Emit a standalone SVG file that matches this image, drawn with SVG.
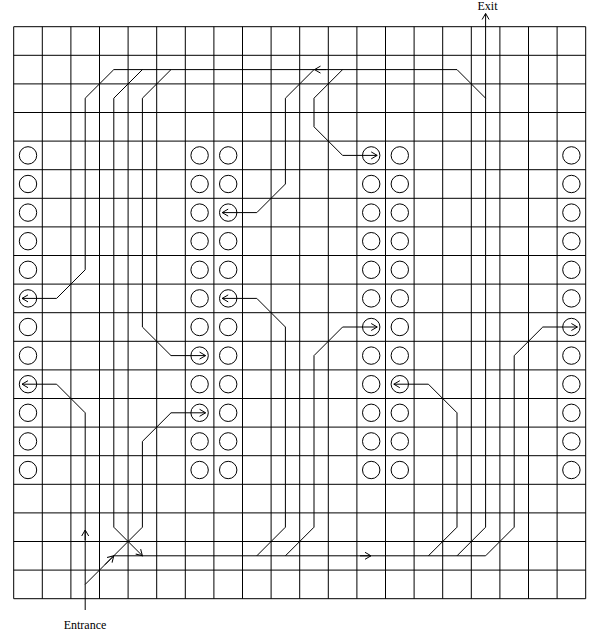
<svg xmlns="http://www.w3.org/2000/svg" width="595" height="633" viewBox="0 0 595 633">
<style>
.grid{fill:none;stroke:#000;stroke-width:1}
.route{fill:none;stroke:#000;stroke-width:1}
.seat{fill:none;stroke:#000;stroke-width:1}
.lbl{font-family:"Liberation Serif","Times New Roman",serif;font-size:12px;fill:#000;text-anchor:middle}
</style>
<defs>
<marker id="arr" markerUnits="userSpaceOnUse" markerWidth="12" markerHeight="12" refX="0" refY="0" viewBox="-8 -6 10 12" orient="auto" overflow="visible">
<path d="M-6,-3.5 L0,0 L-6,3.5" fill="none" stroke="#000" stroke-width="1"/>
</marker>
<circle id="c" r="8.7" class="seat"/>
</defs>
<rect width="595" height="633" fill="#fff"/>
<g id="grid" class="grid">
<path d="M13.7,26.7V598.7M42.3,26.7V598.7M70.9,26.7V598.7M99.5,26.7V598.7M128.1,26.7V598.7M156.7,26.7V598.7M185.3,26.7V598.7M213.9,26.7V598.7M242.5,26.7V598.7M271.1,26.7V598.7M299.7,26.7V598.7M328.3,26.7V598.7M356.9,26.7V598.7M385.5,26.7V598.7M414.1,26.7V598.7M442.7,26.7V598.7M471.3,26.7V598.7M499.9,26.7V598.7M528.5,26.7V598.7M557.1,26.7V598.7M585.7,26.7V598.7"/>
<path d="M13.7,26.7H585.7M13.7,55.3H585.7M13.7,83.9H585.7M13.7,112.5H585.7M13.7,141.1H585.7M13.7,169.7H585.7M13.7,198.3H585.7M13.7,226.9H585.7M13.7,255.5H585.7M13.7,284.1H585.7M13.7,312.7H585.7M13.7,341.3H585.7M13.7,369.9H585.7M13.7,398.5H585.7M13.7,427.1H585.7M13.7,455.7H585.7M13.7,484.3H585.7M13.7,512.9H585.7M13.7,541.5H585.7M13.7,570.1H585.7M13.7,598.7H585.7"/>
</g>
<g id="seats-col1">
<g id="s1-1"><use href="#c" x="28" y="155.4"/></g>
<g id="s1-2"><use href="#c" x="28" y="184"/></g>
<g id="s1-3"><use href="#c" x="28" y="212.6"/></g>
<g id="s1-4"><use href="#c" x="28" y="241.2"/></g>
<g id="s1-5"><use href="#c" x="28" y="269.8"/></g>
<g id="s1-6"><use href="#c" x="28" y="298.4"/></g>
<g id="s1-7"><use href="#c" x="28" y="327"/></g>
<g id="s1-8"><use href="#c" x="28" y="355.6"/></g>
<g id="s1-9"><use href="#c" x="28" y="384.2"/></g>
<g id="s1-10"><use href="#c" x="28" y="412.8"/></g>
<g id="s1-11"><use href="#c" x="28" y="441.4"/></g>
<g id="s1-12"><use href="#c" x="28" y="470"/></g>
</g>
<g id="seats-col2">
<g id="s2-1"><use href="#c" x="199.6" y="155.4"/></g>
<g id="s2-2"><use href="#c" x="199.6" y="184"/></g>
<g id="s2-3"><use href="#c" x="199.6" y="212.6"/></g>
<g id="s2-4"><use href="#c" x="199.6" y="241.2"/></g>
<g id="s2-5"><use href="#c" x="199.6" y="269.8"/></g>
<g id="s2-6"><use href="#c" x="199.6" y="298.4"/></g>
<g id="s2-7"><use href="#c" x="199.6" y="327"/></g>
<g id="s2-8"><use href="#c" x="199.6" y="355.6"/></g>
<g id="s2-9"><use href="#c" x="199.6" y="384.2"/></g>
<g id="s2-10"><use href="#c" x="199.6" y="412.8"/></g>
<g id="s2-11"><use href="#c" x="199.6" y="441.4"/></g>
<g id="s2-12"><use href="#c" x="199.6" y="470"/></g>
</g>
<g id="seats-col3">
<g id="s3-1"><use href="#c" x="228.2" y="155.4"/></g>
<g id="s3-2"><use href="#c" x="228.2" y="184"/></g>
<g id="s3-3"><use href="#c" x="228.2" y="212.6"/></g>
<g id="s3-4"><use href="#c" x="228.2" y="241.2"/></g>
<g id="s3-5"><use href="#c" x="228.2" y="269.8"/></g>
<g id="s3-6"><use href="#c" x="228.2" y="298.4"/></g>
<g id="s3-7"><use href="#c" x="228.2" y="327"/></g>
<g id="s3-8"><use href="#c" x="228.2" y="355.6"/></g>
<g id="s3-9"><use href="#c" x="228.2" y="384.2"/></g>
<g id="s3-10"><use href="#c" x="228.2" y="412.8"/></g>
<g id="s3-11"><use href="#c" x="228.2" y="441.4"/></g>
<g id="s3-12"><use href="#c" x="228.2" y="470"/></g>
</g>
<g id="seats-col4">
<g id="s4-1"><use href="#c" x="371.2" y="155.4"/></g>
<g id="s4-2"><use href="#c" x="371.2" y="184"/></g>
<g id="s4-3"><use href="#c" x="371.2" y="212.6"/></g>
<g id="s4-4"><use href="#c" x="371.2" y="241.2"/></g>
<g id="s4-5"><use href="#c" x="371.2" y="269.8"/></g>
<g id="s4-6"><use href="#c" x="371.2" y="298.4"/></g>
<g id="s4-7"><use href="#c" x="371.2" y="327"/></g>
<g id="s4-8"><use href="#c" x="371.2" y="355.6"/></g>
<g id="s4-9"><use href="#c" x="371.2" y="384.2"/></g>
<g id="s4-10"><use href="#c" x="371.2" y="412.8"/></g>
<g id="s4-11"><use href="#c" x="371.2" y="441.4"/></g>
<g id="s4-12"><use href="#c" x="371.2" y="470"/></g>
</g>
<g id="seats-col5">
<g id="s5-1"><use href="#c" x="399.8" y="155.4"/></g>
<g id="s5-2"><use href="#c" x="399.8" y="184"/></g>
<g id="s5-3"><use href="#c" x="399.8" y="212.6"/></g>
<g id="s5-4"><use href="#c" x="399.8" y="241.2"/></g>
<g id="s5-5"><use href="#c" x="399.8" y="269.8"/></g>
<g id="s5-6"><use href="#c" x="399.8" y="298.4"/></g>
<g id="s5-7"><use href="#c" x="399.8" y="327"/></g>
<g id="s5-8"><use href="#c" x="399.8" y="355.6"/></g>
<g id="s5-9"><use href="#c" x="399.8" y="384.2"/></g>
<g id="s5-10"><use href="#c" x="399.8" y="412.8"/></g>
<g id="s5-11"><use href="#c" x="399.8" y="441.4"/></g>
<g id="s5-12"><use href="#c" x="399.8" y="470"/></g>
</g>
<g id="seats-col6">
<g id="s6-1"><use href="#c" x="571.4" y="155.4"/></g>
<g id="s6-2"><use href="#c" x="571.4" y="184"/></g>
<g id="s6-3"><use href="#c" x="571.4" y="212.6"/></g>
<g id="s6-4"><use href="#c" x="571.4" y="241.2"/></g>
<g id="s6-5"><use href="#c" x="571.4" y="269.8"/></g>
<g id="s6-6"><use href="#c" x="571.4" y="298.4"/></g>
<g id="s6-7"><use href="#c" x="571.4" y="327"/></g>
<g id="s6-8"><use href="#c" x="571.4" y="355.6"/></g>
<g id="s6-9"><use href="#c" x="571.4" y="384.2"/></g>
<g id="s6-10"><use href="#c" x="571.4" y="412.8"/></g>
<g id="s6-11"><use href="#c" x="571.4" y="441.4"/></g>
<g id="s6-12"><use href="#c" x="571.4" y="470"/></g>
</g>
<g id="connectors" class="route">
<path d="M113.8,69.6H457L485.6,98.2"/>
<path d="M457,555.8L485.6,527.2V13.5" marker-end="url(#arr)"/>
<path d="M113.8,69.6L85.2,98.2V269.8L56.6,298.4H22" marker-end="url(#arr)"/>
<path d="M142.4,69.6L113.8,98.2V527.2L142.4,555.8" marker-end="url(#arr)"/>
<path d="M171,69.6L142.4,98.2V327L171,355.6H205.6" marker-end="url(#arr)"/>
<path d="M85.2,610V412.8L56.6,384.2H22" marker-end="url(#arr)"/>
<path d="M85.2,540V530" marker-end="url(#arr)"/>
<path d="M85.2,584.4L142.4,527.2V441.4L171,412.8H205.6" marker-end="url(#arr)"/>
<path d="M105,564.6L113.8,555.8" marker-end="url(#arr)"/>
<path d="M113.8,555.8H485.6"/>
<path d="M360,555.8H371" marker-end="url(#arr)"/>
<path d="M256.8,555.8L285.4,527.2V327L256.8,298.4H222.2" marker-end="url(#arr)"/>
<path d="M285.4,555.8L314,527.2V355.6L342.6,327H377.2" marker-end="url(#arr)"/>
<path d="M428.4,555.8L457,527.2V412.8L428.4,384.2H393.8" marker-end="url(#arr)"/>
<path d="M485.6,555.8L514.2,527.2V355.6L542.8,327H577.4" marker-end="url(#arr)"/>
<path d="M314,69.6L285.4,98.2V184L256.8,212.6H222.2" marker-end="url(#arr)"/>
<path d="M326,69.6H314.5" marker-end="url(#arr)"/>
<path d="M342.6,69.6L314,98.2V126.8L342.6,155.4H377.2" marker-end="url(#arr)"/>
</g>
<g id="labels">
<text class="lbl" x="487.5" y="10">Exit</text>
<text class="lbl" x="85" y="628.5">Entrance</text>
</g>
</svg>
